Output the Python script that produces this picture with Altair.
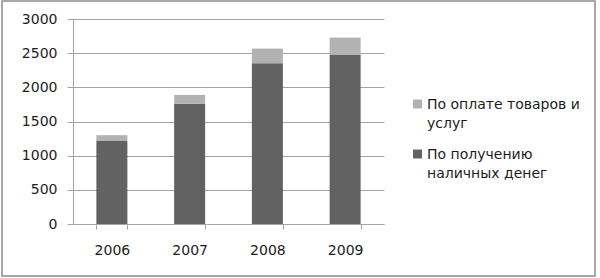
import altair as alt
import pandas as pd

years = ["2006", "2007", "2008", "2009"]
cash = [1215, 1757, 2353, 2479]
payments = [85, 132, 214, 249]

s_pay = "По оплате товаров и услуг"
s_cash = "По получению наличных денег"
series = [s_pay, s_cash]
legend_text = ["По оплате товаров и\nуслуг", "По получению\nналичных денег"]
colors = ["#b2b2b2", "#626262"]
y_ticks = [0, 500, 1000, 1500, 2000, 2500, 3000]

rows = []
for y, c, p in zip(years, cash, payments):
    rows.append({"year": y, "series": s_cash, "value": c, "ord": 0})
    rows.append({"year": y, "series": s_pay, "value": p, "ord": 1})
df = pd.DataFrame(rows)
leg_df = pd.DataFrame({"series": series, "label": legend_text})

FONT = "DejaVu Sans"
TXT = "#1c1c1c"
GRID = "#a3a3a3"
FS = 14

color_scale = alt.Scale(domain=series, range=colors)

bars = alt.Chart(df).mark_bar(size=31).encode(
    x=alt.X(
        "year:N",
        title=None,
        scale=alt.Scale(paddingInner=0.6, paddingOuter=0.3),
        axis=alt.Axis(
            labelAngle=0, tickBand="extent", tickSize=5, labelPadding=14,
            domainColor=GRID, tickColor=GRID, labelFont=FONT, labelFontSize=FS,
            labelColor=TXT, grid=False,
        ),
    ),
    y=alt.Y(
        "value:Q",
        stack="zero",
        title=None,
        scale=alt.Scale(domain=[0, 3000], nice=False),
        axis=alt.Axis(
            values=y_ticks, format="d", tickSize=6, labelPadding=10, grid=True,
            gridColor=GRID, domainColor=GRID, tickColor=GRID,
            labelFont=FONT, labelFontSize=FS, labelColor=TXT,
        ),
    ),
    color=alt.Color("series:N", scale=color_scale, legend=None),
    order=alt.Order("ord:Q", sort="ascending"),
)

legend_layers = []
for i, (sq_y, tx_y) in enumerate([(85, 90), (135, 140)]):
    base = alt.Chart(leg_df).transform_filter(
        alt.datum.series == series[i]
    )
    legend_layers.append(
        base.mark_square(size=80, opacity=1).encode(
            x=alt.value(344.5), y=alt.value(sq_y),
            color=alt.Color("series:N", scale=color_scale, legend=None),
        )
    )
    legend_layers.append(
        base.mark_text(
            align="left", baseline="alphabetic", lineBreak="\n", lineHeight=19,
            font=FONT, fontSize=FS, color=TXT,
        ).encode(x=alt.value(354), y=alt.value(tx_y), text="label:N")
    )

border = alt.Chart(alt.Data(values=[{}])).mark_rect(
    fill=None, stroke="#8c8c8c", strokeWidth=1.5
).encode(
    x=alt.value(-71), x2=alt.value(522), y=alt.value(-18), y2=alt.value(257)
)

chart = alt.layer(bars, *legend_layers, border).properties(
    width=311,
    height=205,
    autosize=alt.AutoSizeParams(type="none"),
    padding={"left": 73, "top": 19, "right": 216, "bottom": 54},
    background="white",
).configure_view(stroke=None)

chart.save("out.html", embed_options={"renderer": "svg", "actions": False})
